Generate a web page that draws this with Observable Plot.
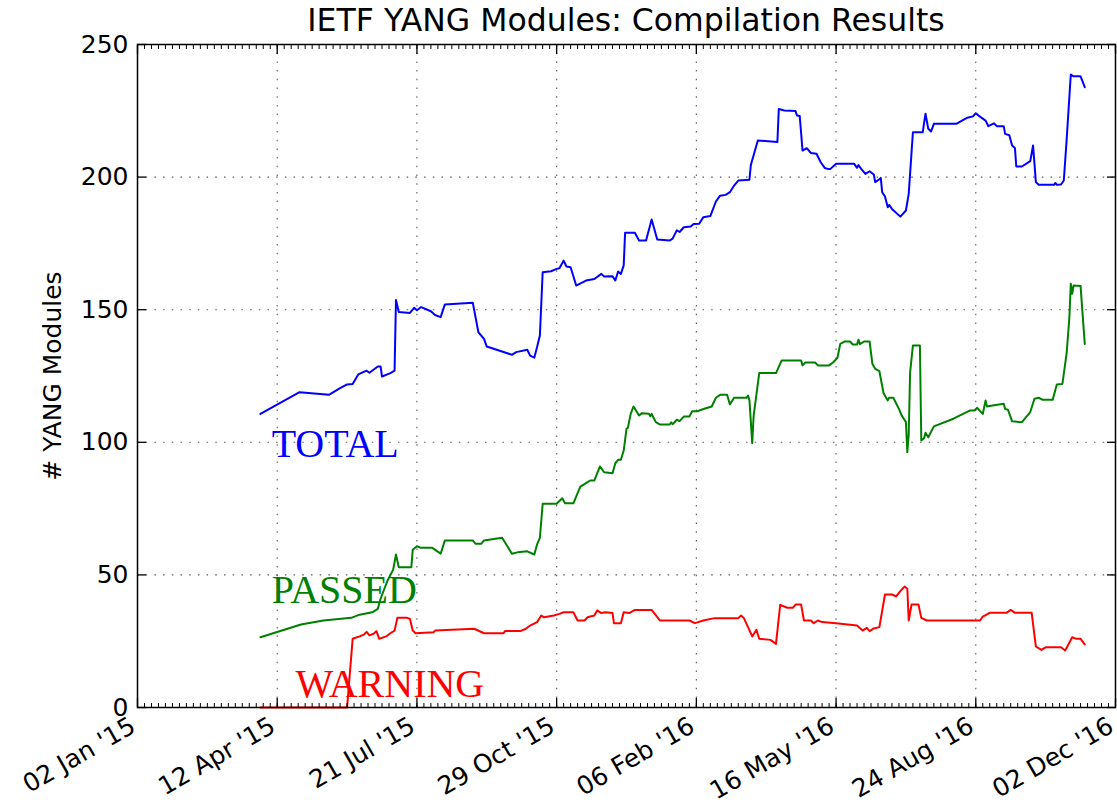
<!DOCTYPE html>
<html><head><meta charset="utf-8">
<script src="https://cdn.jsdelivr.net/npm/d3@7"></script>
<script src="https://cdn.jsdelivr.net/npm/@observablehq/plot@0.6"></script>
<style>
body{margin:0;background:#fff;font-family:"DejaVu Sans",sans-serif;}
#title{position:relative;height:22px;width:1117px;}
#title span{position:absolute;left:137px;width:978px;text-align:center;top:0px;font-size:31.5px;line-height:40px;color:#000;white-space:nowrap;}
#chart svg{background:transparent !important;display:block;}
</style></head><body>
<div id="title"><span>IETF YANG Modules: Compilation Results</span></div>
<div id="chart"></div>
<script>
const xStart = "2015-01-02";
const xEnd = "2016-12-02";
const xTickDates = ["2015-01-02","2015-04-12","2015-07-21","2015-10-29","2016-02-06","2016-05-16","2016-08-24","2016-12-02"];
const yTicks = [0, 50, 100, 150, 200, 250];
const seriesNames = ["TOTAL", "PASSED", "WARNING"];
const seriesColors = ["#0000ff", "#008000", "#ff0000"];
const labelDates = ["2015-04-08", "2015-04-08", "2015-04-25"];
const labelValues = [94.4, 39.3, 3.8];

const totalDates = ["2015-03-31","2015-04-28","2015-05-19","2015-05-27","2015-06-01","2015-06-05","2015-06-09","2015-06-15","2015-06-17","2015-06-23","2015-06-25","2015-06-26","2015-07-02","2015-07-05","2015-07-06","2015-07-08","2015-07-16","2015-07-19","2015-07-21","2015-07-24","2015-07-31","2015-08-03","2015-08-07","2015-08-10","2015-08-30","2015-09-03","2015-09-07","2015-09-09","2015-09-27","2015-09-30","2015-10-08","2015-10-10","2015-10-13","2015-10-15","2015-10-17","2015-10-19","2015-10-25","2015-10-29","2015-10-31","2015-11-03","2015-11-05","2015-11-08","2015-11-12","2015-11-19","2015-11-25","2015-11-30","2015-12-02","2015-12-08","2015-12-10","2015-12-12","2015-12-14","2015-12-16","2015-12-17","2015-12-24","2015-12-27","2016-01-01","2016-01-05","2016-01-09","2016-01-18","2016-01-20","2016-01-23","2016-01-25","2016-01-28","2016-02-02","2016-02-04","2016-02-08","2016-02-11","2016-02-16","2016-02-20","2016-02-23","2016-02-27","2016-03-01","2016-03-04","2016-03-07","2016-03-15","2016-03-16","2016-03-21","2016-04-04","2016-04-05","2016-04-09","2016-04-17","2016-04-18","2016-04-20","2016-04-22","2016-04-25","2016-04-28","2016-05-02","2016-05-05","2016-05-08","2016-05-10","2016-05-12","2016-05-16","2016-05-29","2016-05-31","2016-06-01","2016-06-03","2016-06-06","2016-06-09","2016-06-12","2016-06-13","2016-06-16","2016-06-17","2016-06-18","2016-06-20","2016-06-22","2016-06-23","2016-06-25","2016-07-01","2016-07-05","2016-07-07","2016-07-10","2016-07-17","2016-07-19","2016-07-21","2016-07-23","2016-07-25","2016-08-10","2016-08-18","2016-08-22","2016-08-24","2016-08-26","2016-08-31","2016-09-02","2016-09-06","2016-09-08","2016-09-13","2016-09-14","2016-09-17","2016-09-19","2016-09-21","2016-09-22","2016-09-26","2016-10-02","2016-10-04","2016-10-06","2016-10-08","2016-10-19","2016-10-20","2016-10-21","2016-10-24","2016-10-26","2016-10-28","2016-10-31","2016-11-02","2016-11-07","2016-11-10"];
const totalValues = [110.7,118.9,117.9,120.4,121.8,122,125.6,127,126.2,128.6,128.6,124.8,126.1,127,153.7,149.1,148.8,150.7,149.8,151,149.4,148,147.2,152,152.6,141.5,139,136.1,133,134,134.9,132.7,131.9,135.9,140.3,164.1,164.5,165.4,165.6,168.5,166.3,166,159.1,161,161.6,163.5,162.5,162.6,161,164.4,163.5,166.7,179,179,176.1,176.1,184,176.5,176.1,176.8,179.9,179.3,181.1,181.4,182.3,182.4,184.9,185.3,190.8,193,193.3,194.3,196.8,198.7,199,204.6,213.8,213.2,225.7,225.1,224.9,223.2,223,210,210.9,209.1,208.8,205.6,203.4,203.1,203.1,205,205,203.5,204.5,203.1,201.2,202.2,201,198.1,199.2,199.7,194.3,192.7,188.6,189.5,188,185.1,187.4,193.7,216.9,216.9,223.9,218.2,217.2,220.1,220.1,222.4,222.9,224.1,223.2,221.3,219.2,220.3,219.2,219.2,216.3,215.8,211.9,211,204,204,206,211.9,198.1,197.1,197.1,197.8,197.1,197.2,198.7,213.8,238.7,238,238,233.9];

const passedDates = ["2015-03-31","2015-04-29","2015-05-15","2015-06-04","2015-06-10","2015-06-19","2015-06-23","2015-06-25","2015-06-30","2015-07-04","2015-07-06","2015-07-08","2015-07-17","2015-07-18","2015-07-21","2015-07-24","2015-08-01","2015-08-07","2015-08-10","2015-08-30","2015-09-01","2015-09-05","2015-09-07","2015-09-20","2015-09-27","2015-10-01","2015-10-08","2015-10-13","2015-10-15","2015-10-17","2015-10-19","2015-10-29","2015-11-02","2015-11-04","2015-11-10","2015-11-13","2015-11-15","2015-11-19","2015-11-22","2015-11-25","2015-11-29","2015-12-02","2015-12-08","2015-12-10","2015-12-12","2015-12-14","2015-12-16","2015-12-18","2015-12-19","2015-12-21","2015-12-23","2015-12-27","2015-12-29","2016-01-03","2016-01-04","2016-01-05","2016-01-08","2016-01-11","2016-01-18","2016-01-19","2016-01-20","2016-01-23","2016-01-25","2016-01-28","2016-02-01","2016-02-03","2016-02-07","2016-02-09","2016-02-14","2016-02-17","2016-02-20","2016-02-23","2016-02-28","2016-03-01","2016-03-04","2016-03-13","2016-03-14","2016-03-15","2016-03-17","2016-03-18","2016-03-22","2016-04-03","2016-04-07","2016-04-21","2016-04-22","2016-04-24","2016-05-01","2016-05-03","2016-05-11","2016-05-14","2016-05-17","2016-05-19","2016-05-22","2016-05-26","2016-05-28","2016-05-31","2016-06-01","2016-06-02","2016-06-05","2016-06-09","2016-06-11","2016-06-13","2016-06-16","2016-06-19","2016-06-22","2016-06-23","2016-06-26","2016-06-30","2016-07-02","2016-07-05","2016-07-06","2016-07-07","2016-07-08","2016-07-10","2016-07-15","2016-07-16","2016-07-18","2016-07-19","2016-07-21","2016-07-25","2016-08-08","2016-08-20","2016-08-23","2016-08-25","2016-08-29","2016-08-31","2016-09-01","2016-09-05","2016-09-13","2016-09-14","2016-09-16","2016-09-19","2016-09-26","2016-10-02","2016-10-05","2016-10-08","2016-10-11","2016-10-18","2016-10-21","2016-10-25","2016-10-28","2016-10-30","2016-10-31","2016-11-01","2016-11-02","2016-11-07","2016-11-10"];
const passedValues = [26.5,31.3,32.8,33.8,35,35.9,37.2,41,47.9,52,57.7,52.9,52.9,59.5,60.8,60.2,60.2,58,63,63,61.7,61.7,63,64,58,58.5,58.9,57.7,61.5,64,76.8,76.8,78.9,77,77,80.8,83.3,84.6,85.6,85.6,90.9,88.7,88.3,92.1,93.4,93.4,96.9,105.1,105.5,110.7,113.5,110.1,111,110.8,109.8,110.7,107.6,106.7,106.7,107.5,106.8,108.5,108,109.7,109.7,111.7,111.7,112.2,113,113.5,116.8,117.9,117.9,114.3,116.8,116.8,117.6,115.8,99.7,110,126.1,126.1,130.8,130.8,129,130.1,130.1,129,129,130.2,131.9,137.1,138,138,136.9,136.9,138.7,137,138,138,129.6,127.7,126.8,118.5,115.8,116.8,116.8,112.6,110.1,107.6,96.3,103,126.4,136.5,136.5,100.7,101.5,103.6,101.9,106,108.9,112,112,113,110.7,115.8,113.5,113.9,114.5,112.6,112.3,107.9,107.6,111.4,116.4,116.8,116,116,121.8,122,133.4,147.2,159.8,156,159.1,158.9,137.1];

const warningDates = ["2015-03-31","2015-06-01","2015-06-05","2015-06-10","2015-06-13","2015-06-15","2015-06-17","2015-06-20","2015-06-22","2015-06-24","2015-06-29","2015-07-02","2015-07-05","2015-07-07","2015-07-14","2015-07-16","2015-07-18","2015-07-20","2015-08-02","2015-08-03","2015-08-31","2015-09-07","2015-09-21","2015-09-22","2015-10-03","2015-10-07","2015-10-10","2015-10-15","2015-10-18","2015-10-20","2015-10-27","2015-10-31","2015-11-03","2015-11-10","2015-11-13","2015-11-18","2015-11-20","2015-11-25","2015-11-27","2015-11-30","2015-12-03","2015-12-08","2015-12-09","2015-12-14","2015-12-16","2015-12-20","2015-12-24","2016-01-05","2016-01-11","2016-02-01","2016-02-05","2016-02-11","2016-02-19","2016-03-07","2016-03-09","2016-03-11","2016-03-14","2016-03-17","2016-03-20","2016-03-22","2016-03-30","2016-04-03","2016-04-06","2016-04-11","2016-04-15","2016-04-17","2016-04-21","2016-04-23","2016-04-28","2016-04-30","2016-05-03","2016-05-06","2016-05-16","2016-05-31","2016-06-04","2016-06-07","2016-06-09","2016-06-12","2016-06-16","2016-06-20","2016-06-25","2016-06-28","2016-07-01","2016-07-04","2016-07-06","2016-07-07","2016-07-09","2016-07-14","2016-07-16","2016-07-20","2016-08-27","2016-08-29","2016-09-03","2016-09-15","2016-09-18","2016-09-21","2016-10-03","2016-10-06","2016-10-10","2016-10-13","2016-10-24","2016-10-27","2016-11-01","2016-11-04","2016-11-07","2016-11-10"];
const warningValues = [0,0,25.9,26.8,27.5,28.5,27.2,27.8,28.8,25.9,26.8,28,29,33.8,33.8,33.4,29,28,28.4,29,29.7,28,28,28.8,28.8,29.7,30.9,32.2,34.7,34,34.7,35.3,35.9,35.9,32.8,32.8,34,34.7,36.6,35.6,35.9,35.6,31.8,31.8,35.9,35.6,36.8,36.8,32.8,32.8,31.8,32.8,33.7,33.7,34.7,33.7,30.3,26.8,29.3,25.9,25.5,24,38.7,37.6,37.6,38.8,38.8,32.8,32.8,31.8,32.8,32.2,31.8,30.9,29,30,28.8,29.8,30.3,42.6,42.6,41.9,43.9,45.6,44.8,32.8,38.8,38.8,33.8,32.8,32.8,34.3,35.7,35.7,36.8,35.7,35.7,23,21.7,22.7,22.7,21.5,26.5,25.9,25.9,23.8];

const parse = d3.utcParse("%Y-%m-%d");
const rows = (dates, values) => dates.map((d, i) => ({date: parse(d), value: values[i]}));
const seriesData = [rows(totalDates, totalValues), rows(passedDates, passedValues), rows(warningDates, warningValues)];
const labels = seriesNames.map((name, i) => ({name, date: parse(labelDates[i]), value: labelValues[i], color: seriesColors[i]}));

const x0 = parse(xStart), x1 = parse(xEnd);
const majorTicks = xTickDates.map(parse);
const minorTicks = d3.utcDay.range(x0, d3.utcDay.offset(x1, 1)).filter((d, i) => i % 5 === 0);
const fmt = d3.utcFormat("%d %b '%y");
const blank = () => "";
const gridStyle = {stroke: "#000", strokeOpacity: 0.65, strokeWidth: 1.1, strokeDasharray: "1.5,7.2"};

const chart = Plot.plot({
  width: 1117,
  height: 785,
  marginLeft: 137,
  marginRight: 2,
  marginTop: 22,
  marginBottom: 100,
  style: {fontFamily: "DejaVu Sans, sans-serif", fontSize: "25px", color: "#000", background: "transparent", overflow: "visible"},
  x: {type: "utc", domain: [x0, x1]},
  y: {domain: [0, 250]},
  marks: [
    Plot.gridX(majorTicks.slice(1, -1), gridStyle),
    Plot.gridY(yTicks.slice(1, -1), gridStyle),
    ...seriesData.map((d, i) => Plot.line(d, {x: "date", y: "value", stroke: seriesColors[i], strokeWidth: 2, curve: "linear"})),
    Plot.text(labels, {x: "date", y: "value", text: "name", fill: "color", textAnchor: "start", lineAnchor: "bottom", fontFamily: "Liberation Serif, serif", fontSize: 40}),
    Plot.frame({stroke: "#000", strokeWidth: 1.5}),
    Plot.axisY(yTicks, {anchor: "left", tickSize: -9, tickPadding: 18, fontSize: 25, label: null, strokeWidth: 1.3}),
    Plot.axisY(yTicks, {anchor: "right", tickSize: -9, tickFormat: blank, label: null, strokeWidth: 1.3}),
    Plot.axisX(majorTicks, {anchor: "bottom", tickSize: -9, tickFormat: blank, label: null, strokeWidth: 1.3}),
    Plot.text(majorTicks, {x: d => d, text: d => fmt(d), frameAnchor: "bottom", rotate: -30, textAnchor: "end", lineAnchor: "top", dy: 8, dx: -9, fontSize: 25, fill: "#000"}),
    Plot.axisX(majorTicks, {anchor: "top", tickSize: -9, tickFormat: blank, label: null, strokeWidth: 1.3}),
    Plot.axisX(minorTicks, {anchor: "bottom", tickSize: -4, tickFormat: blank, label: null}),
    Plot.axisX(minorTicks, {anchor: "top", tickSize: -4, tickFormat: blank, label: null}),
    Plot.text(["# YANG Modules"], {frameAnchor: "left", dx: -85, rotate: -90, textAnchor: "middle", lineAnchor: "middle", fontSize: 25, fill: "#000"})
  ]
});
document.getElementById("chart").appendChild(chart);
</script></body></html>
